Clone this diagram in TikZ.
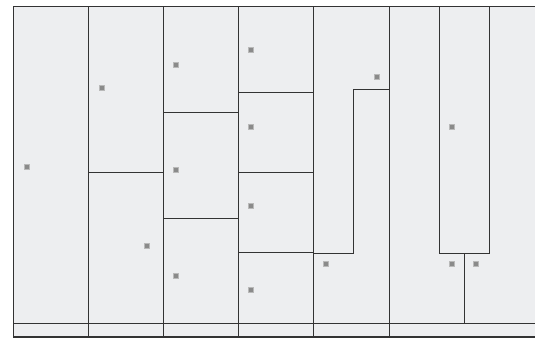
\documentclass[tikz,border=0pt]{standalone}
\definecolor{panel}{HTML}{EDEEF0}
\definecolor{edge}{HTML}{333333}
\definecolor{mark}{HTML}{8A8A8A}
\tikzset{
  wall/.style={draw=edge,line width=1pt},
  dot/.style={fill=mark,draw=mark!60!white,line width=0.3pt,minimum size=5pt,inner sep=0pt,rectangle}
}
\begin{document}
\begin{tikzpicture}[x=1pt,y=-1pt]
\useasboundingbox (0,0) rectangle (535,338);
\fill[white] (0,0) rectangle (535,338);
\fill[panel] (13,6) rectangle (535,337);
% outer frame
\draw[wall] (535,6) -- (13,6) -- (13,337);
\draw[wall,line width=1.6pt] (13,337) -- (535,337);
\draw[wall] (13,323.5) -- (535,323.5);
% full-height columns
\foreach \x in {88.5,163,238,313.5,389}
  \draw[wall] (\x,6) -- (\x,337);
% column 2
\draw[wall] (88.5,172) -- (163,172);
% column 3
\draw[wall] (163,112) -- (238,112);
\draw[wall] (163,218) -- (238,218);
% column 4
\draw[wall] (238,92) -- (313.5,92);
\draw[wall] (238,172) -- (313.5,172);
\draw[wall] (238,252.5) -- (313.5,252.5);
% column 5
\draw[wall] (389,89.5) -- (353,89.5) -- (353,253) -- (313.5,253);
% column 6
\draw[wall] (439.5,6) -- (439.5,253) -- (489,253) -- (489,6);
\draw[wall] (464,253) -- (464,323.5);
% markers
\node[dot] (m1) at (27,167) {};
\node[dot] (m2) at (102,88) {};
\node[dot] (m3) at (147,246) {};
\node[dot] (m4) at (176,65) {};
\node[dot] (m5) at (176,170) {};
\node[dot] (m6) at (176,276) {};
\node[dot] (m7) at (251,50) {};
\node[dot] (m8) at (251,127) {};
\node[dot] (m9) at (251,206) {};
\node[dot] (m10) at (251,290) {};
\node[dot] (m11) at (377,77) {};
\node[dot] (m12) at (326,264) {};
\node[dot] (m13) at (452,127) {};
\node[dot] (m14) at (452,264) {};
\node[dot] (m15) at (476,264) {};
\end{tikzpicture}
\end{document}
